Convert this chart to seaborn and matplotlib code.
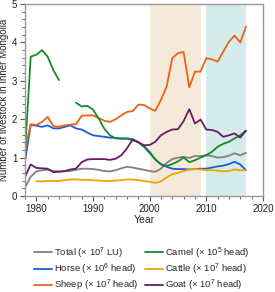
import matplotlib
matplotlib.use('Agg')
import matplotlib.pyplot as plt
from matplotlib.ticker import MultipleLocator
import numpy as np
import pandas as pd
import seaborn as sns

sns.set_style('ticks')
plt.rcParams['font.family'] = ['Liberation Sans', 'DejaVu Sans']
plt.rcParams['mathtext.fontset'] = 'custom'
plt.rcParams['mathtext.rm'] = 'Liberation Sans'

# Data (yearly, 1978-2017)
years = list(range(1978, 2018))
total = [0.22, 0.50, 0.64, 0.67, 0.68, 0.65, 0.64, 0.64, 0.65, 0.68,
         0.71, 0.71, 0.70, 0.68, 0.65, 0.64, 0.67, 0.72, 0.76, 0.74,
         0.71, 0.68, 0.65, 0.63, 0.71, 0.86, 0.96, 1.00, 1.02, 0.99,
         1.04, 1.04, 1.06, 1.04, 1.00, 1.01, 1.05, 1.11, 1.06, 1.12]
horse = [0.91, 1.85, 1.83, 1.80, 1.84, 1.76, 1.76, 1.80, 1.84, 1.76,
         1.73, 1.65, 1.58, 1.56, 1.54, 1.52, 1.51, 1.50, 1.50, 1.48,
         1.40, 1.28, 1.12, 0.95, 0.82, 0.76, 0.71, 0.70, 0.70, 0.69,
         0.70, 0.71, 0.71, 0.74, 0.77, 0.79, 0.83, 0.89, 0.82, 0.67]
sheep = [1.19, 1.87, 1.85, 1.93, 2.06, 1.82, 1.80, 1.84, 1.86, 1.87,
         2.09, 2.10, 2.10, 2.03, 1.96, 1.93, 2.00, 2.10, 2.19, 2.21,
         2.38, 2.37, 2.28, 2.22, 2.50, 2.85, 3.59, 3.72, 3.75, 2.83,
         3.24, 3.24, 3.59, 3.56, 3.50, 3.76, 4.02, 4.18, 4.00, 4.41]
camel = [1.15, 3.63, 3.68, 3.80, 3.63, 3.28, 3.02, np.nan, np.nan, 2.43,
         2.33, 2.35, 2.25, 2.02, 1.75, 1.58, 1.50, 1.49, 1.49, 1.45,
         1.40, 1.30, 1.15, 0.95, 0.83, 0.78, 0.83, 0.90, 1.00, 0.88,
         0.93, 1.00, 1.06, 1.15, 1.28, 1.36, 1.41, 1.50, 1.58, 1.70]
cattle = [np.nan, np.nan, 0.38, 0.38, 0.39, 0.39, 0.39, 0.41, 0.43, 0.43,
          0.42, 0.42, 0.41, 0.40, 0.39, 0.39, 0.40, 0.41, 0.43, 0.43,
          0.41, 0.39, 0.37, 0.34, 0.38, 0.48, 0.57, 0.60, 0.65, 0.69,
          0.70, 0.69, 0.67, 0.67, 0.66, 0.64, 0.65, 0.69, 0.67, 0.67]
goat = [0.50, 0.82, 0.73, 0.72, 0.71, 0.62, 0.63, 0.65, 0.69, 0.71,
        0.88, 0.95, 0.96, 0.96, 0.96, 0.94, 0.97, 1.06, 1.24, 1.47,
        1.40, 1.32, 1.33, 1.41, 1.58, 1.67, 1.73, 1.74, 1.95, 2.26,
        1.89, 1.99, 1.73, 1.72, 1.67, 1.54, 1.58, 1.63, 1.52, 1.70]

labels = [r'Total ($\times$ 10$^7$ LU)', r'Horse ($\times$ 10$^6$ head)',
          r'Sheep ($\times$ 10$^7$ head)', r'Camel ($\times$ 10$^5$ head)',
          r'Cattle ($\times$ 10$^7$ head)', r'Goat ($\times$ 10$^7$ head)']
series = [total, horse, sheep, camel, cattle, goat]
colors = ['#808080', '#1f5ad8', '#ec6218', '#178a2c', '#f0a500', '#6b1a66']

fig = plt.figure(figsize=(2.75, 2.92), dpi=100)
ax = fig.add_axes([0.091, 0.329, 0.865, 0.657])

# shaded periods
ax.axvspan(2000, 2009, color='#f5ead9', lw=0, zorder=0)
ax.axvspan(2010, 2017, color='#d6ecea', lw=0, zorder=0)

for vals, lab, col in zip(series, labels, colors):
    df = pd.DataFrame({'year': years, 'value': vals})
    df['seg'] = df['value'].isna().cumsum()
    df = df.dropna()
    first = True
    for _, g in df.groupby('seg'):
        sns.lineplot(data=g, x='year', y='value', color=col, lw=1.3,
                     label=lab if first else None, legend=False, ax=ax)
        first = False

ax.set_xlim(1978, 2020)
ax.set_ylim(0, 5)
ax.xaxis.set_major_locator(MultipleLocator(10))
ax.xaxis.set_minor_locator(MultipleLocator(2))
ax.yaxis.set_major_locator(MultipleLocator(1))
ax.yaxis.set_minor_locator(MultipleLocator(0.2))
ax.tick_params(which='major', length=3.5, width=0.8, color='#555555',
               labelsize=7, labelcolor='#222222', pad=2)
ax.tick_params(which='minor', length=2, width=0.6, color='#555555')
for s in ax.spines.values():
    s.set_color('#999999')
    s.set_linewidth(1.0)
ax.set_xlabel('Year', fontsize=7.5, labelpad=1)
ax.set_ylabel('Number of livestock in Inner Mongolia', fontsize=7, labelpad=2)

handles, labs = ax.get_legend_handles_labels()
fig.legend(handles, labs, ncol=2, loc='upper center', bbox_to_anchor=(0.515, 0.16),
           frameon=False, fontsize=6.8, handlelength=1.9, handletextpad=0.25,
           columnspacing=0.7, labelspacing=0.12, borderpad=0, borderaxespad=0)

fig.savefig('out.png', dpi=100)
